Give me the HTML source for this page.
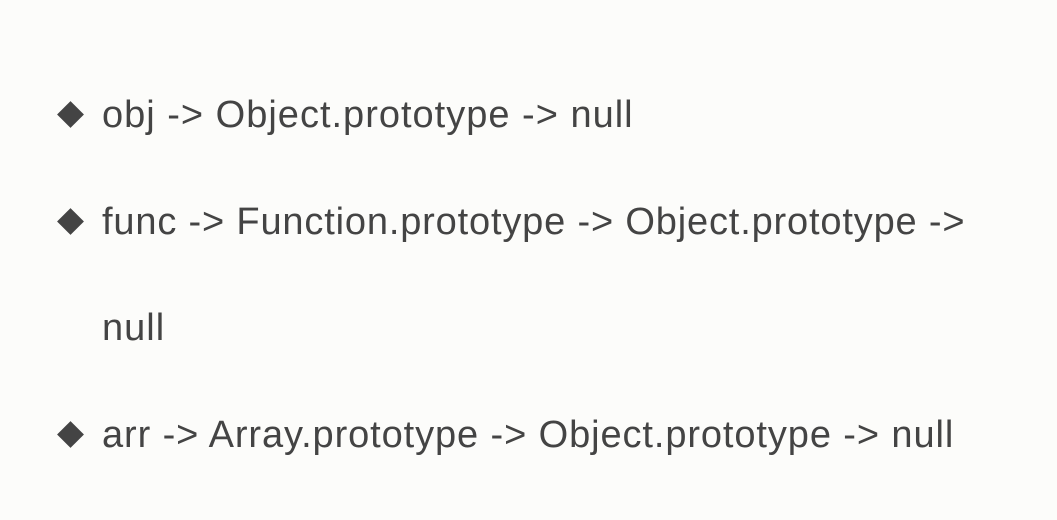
<!DOCTYPE html>
<html><head><style>
html,body{margin:0;padding:0}
body{width:1057px;height:520px;background:#fcfcfa;position:relative;overflow:hidden;font-family:"Liberation Sans",sans-serif;color:#444;}
.t{position:absolute;left:102px;font-size:38px;white-space:nowrap;line-height:1;letter-spacing:1px}
.d{position:absolute;left:61px;width:19px;height:19px;background:#444;transform:rotate(45deg);}
</style></head><body>
<div class="d" style="top:105px"></div>
<div class="t" style="top:96px">obj -&gt; Object.prototype -&gt; null</div>
<div class="d" style="top:212px"></div>
<div class="t" style="top:203px;letter-spacing:0.83px">func -&gt; Function.prototype -&gt; Object.prototype -&gt;</div>
<div class="t" style="top:309px">null</div>
<div class="d" style="top:425px"></div>
<div class="t" style="top:416px;letter-spacing:0.9px">arr -&gt; Array.prototype -&gt; Object.prototype -&gt; null</div>
</body></html>
